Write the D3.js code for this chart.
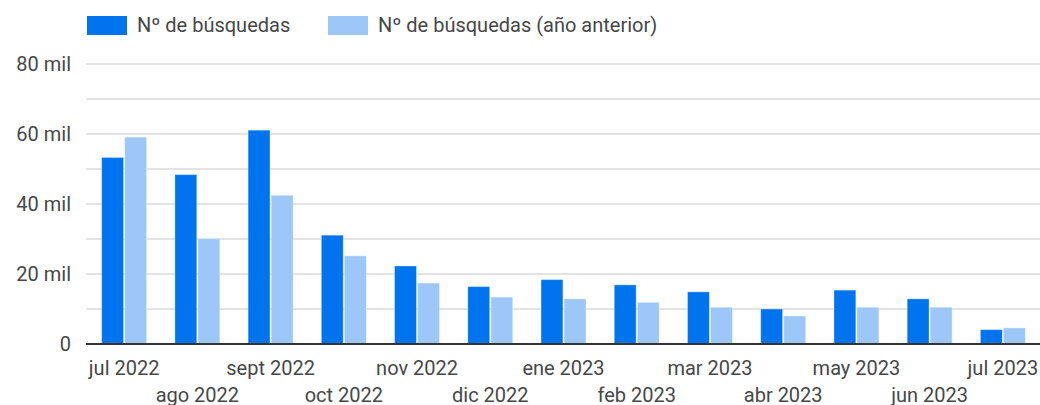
<!DOCTYPE html>
<html>
<head>
<meta charset="utf-8">
<script src="https://cdn.jsdelivr.net/npm/d3@7"></script>
<style>
  html, body { margin: 0; padding: 0; background: #fff; }
  svg { display: block; font-family: Roboto, "Noto Sans", sans-serif; }
</style>
</head>
<body>
<svg id="chart" width="1040" height="405"></svg>
<script>
// Monthly search counts, current period vs. same month of the previous year
const months = ["jul 2022", "ago 2022", "sept 2022", "oct 2022", "nov 2022", "dic 2022",
                "ene 2023", "feb 2023", "mar 2023", "abr 2023", "may 2023", "jun 2023", "jul 2023"];
const searches = [53300, 48400, 61100, 31100, 22300, 16400, 18400, 16900, 14900, 10000, 15400, 12900, 4100];
const searchesPrevYear = [59100, 30100, 42500, 25200, 17400, 13400, 12900, 11900, 10500, 8000, 10500, 10500, 4600];
const seriesNames = ["Nº de búsquedas", "Nº de búsquedas (año anterior)"];
const seriesColors = ["#0073ee", "#9cc7f8"];
const yTickValues = [0, 20000, 40000, 60000, 80000];
const yTickLabels = ["0", "20 mil", "40 mil", "60 mil", "80 mil"];
const gridValues = [0, 10000, 20000, 30000, 40000, 50000, 60000, 70000, 80000];

const svg = d3.select("#chart");
const plot = { left: 86, right: 1040, top: 64, bottom: 344 };
const textColor = "#474747";

const rows = months.map((m, i) => ({ month: m, values: [searches[i], searchesPrevYear[i]] }));

const x0 = d3.scaleBand().domain(months).range([87, 1040]).paddingInner(0.386).paddingOuter(0.2);
const x1 = d3.scaleBand().domain([0, 1]).range([0, x0.bandwidth()]).paddingInner(0.05);
const y = d3.scaleLinear().domain([0, 80000]).range([plot.bottom, plot.top]);

// horizontal gridlines
svg.append("g")
  .selectAll("line")
  .data(gridValues)
  .join("line")
  .attr("x1", plot.left).attr("x2", plot.right)
  .attr("y1", d => y(d)).attr("y2", d => y(d))
  .attr("stroke", "#dadada")
  .attr("stroke-width", 1.5);

// y-axis labels
const yAxis = d3.axisLeft(y)
  .tickValues(yTickValues)
  .tickFormat((d, i) => yTickLabels[i])
  .tickSize(0)
  .tickPadding(15);
const gy = svg.append("g").attr("transform", `translate(${plot.left},0)`).call(yAxis);
gy.select(".domain").remove();
gy.selectAll("text")
  .attr("font-size", 20)
  .attr("font-family", "Roboto, sans-serif")
  .attr("fill", textColor);

// grouped bars
const groups = svg.append("g")
  .selectAll("g")
  .data(rows)
  .join("g")
  .attr("transform", d => `translate(${x0(d.month)},0)`);

groups.selectAll("rect")
  .data(d => d.values.map((v, k) => ({ k, v })))
  .join("rect")
  .attr("x", d => x1(d.k))
  .attr("width", x1.bandwidth())
  .attr("y", d => y(d.v))
  .attr("height", d => y(0) - y(d.v))
  .attr("fill", d => seriesColors[d.k])
  .attr("stroke", "#ffffff")
  .attr("stroke-opacity", 0.35)
  .attr("stroke-width", 1);

// baseline
svg.append("line")
  .attr("x1", plot.left).attr("x2", plot.right)
  .attr("y1", y(0)).attr("y2", y(0))
  .attr("stroke", "#333")
  .attr("stroke-width", 2);

// x-axis labels, staggered over two rows
const xAxis = d3.axisBottom(x0).tickSize(0).tickPadding(0);
const gx = svg.append("g").attr("transform", `translate(0,${plot.bottom})`).call(xAxis);
gx.select(".domain").remove();
gx.selectAll("text")
  .attr("font-size", 20)
  .attr("font-family", "Roboto, sans-serif")
  .attr("fill", textColor)
  .attr("dy", null)
  .attr("y", (d, i) => (i % 2 === 0 ? 31 : 57.5));

// legend
const legendItems = [
  { name: seriesNames[0], color: seriesColors[0], x: 87 },
  { name: seriesNames[1], color: seriesColors[1], x: 328 }
];
const legend = svg.append("g")
  .selectAll("g")
  .data(legendItems)
  .join("g")
  .attr("transform", d => `translate(${d.x},16)`);
legend.append("rect")
  .attr("width", 40).attr("height", 19)
  .attr("fill", d => d.color);
legend.append("text")
  .attr("x", 50).attr("y", 16)
  .attr("font-size", 20)
  .attr("fill", textColor)
  .text(d => d.name);
</script>
</body>
</html>
